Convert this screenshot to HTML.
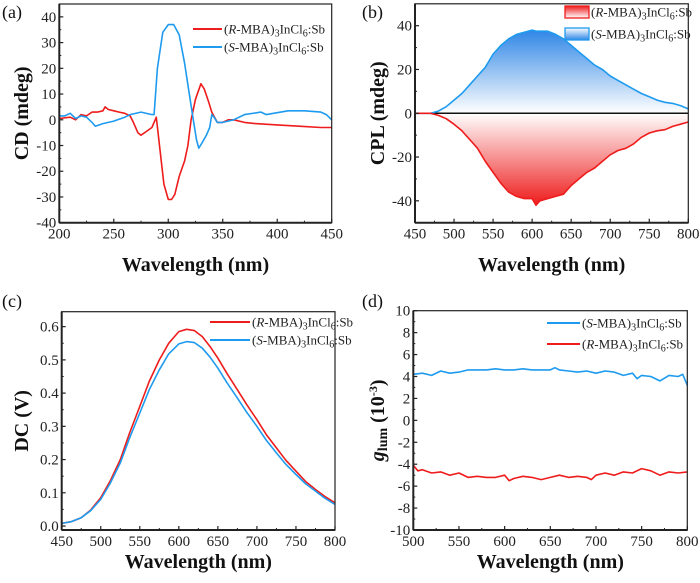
<!DOCTYPE html>
<html><head><meta charset="utf-8"><style>
html,body{margin:0;padding:0;background:#fff;}
svg, svg text{font-family:"Liberation Serif","DejaVu Serif",serif;}
</style></head><body>
<svg id="fig" width="700" height="578" viewBox="0 0 700 578" font-family="Liberation Serif, DejaVu Serif, serif" xmlns="http://www.w3.org/2000/svg">
<defs>
<linearGradient id="gBlue" gradientUnits="userSpaceOnUse" x1="0" y1="30" x2="0" y2="113"><stop offset="0" stop-color="#2f86e6"/><stop offset="1" stop-color="#ffffff"/></linearGradient>
<linearGradient id="gRed" gradientUnits="userSpaceOnUse" x1="0" y1="205" x2="0" y2="113"><stop offset="0" stop-color="#ee1c1c"/><stop offset="1" stop-color="#ffffff"/></linearGradient>
<linearGradient id="lgBlue" x1="0" y1="0" x2="0" y2="1"><stop offset="0" stop-color="#ffffff"/><stop offset="1" stop-color="#2f86e6"/></linearGradient>
<linearGradient id="lgRed" x1="0" y1="0" x2="0" y2="1"><stop offset="0" stop-color="#ee1c1c"/><stop offset="1" stop-color="#ffffff"/></linearGradient>
</defs>
</svg>
<script>
// Panel (a) CD
const aRx=[200,210,215,220,225,230,235,240,242,245,250,255,260,265,268,272,275,280,285,289,292,296,300,303,306,310,315,318,321,325,330,333,337,340,345,350,355,360,370,380,400,420,440,450];
const aRy=[0.5,1,0,2,1.5,3,3,3.5,5,4,3.5,3,2.5,1.5,-1,-5,-6,-4.5,-3,1,-10,-25,-31,-31,-29,-22,-16,-10,0,8,14,12,7,3,-1,-1,0,0,-1,-1.5,-2,-2.5,-3,-3];
const aSx=[200,205,210,215,220,225,230,233,240,250,260,265,275,285,287,290,295,300,305,310,315,320,323,326,328,331,335,338,340,342,345,350,360,370,385,390,410,425,440,445,450];
const aSy=[1.5,1.5,2.5,0.5,1.5,1,-1,-2.5,-1.5,-0.5,1,2,3,2,2,20,34,37,37,33,22,8,0,-8,-11,-9,-6,-3,2,1,-1,-1,0,2,3,2,3.5,3.5,3,2,0];
const aXticks=[200,250,300,350,400,450];
const aYticks=[-40,-30,-20,-10,0,10,20,30,40];
// Panel (b) CPL
const bX=[450,470,480,490,500,510,520,530,540,550,560,570,580,590,600,605,610,620,630,640,650,660,670,680,690,700,710,720,730,740,750,760,770,780,790,800];
const bS=[0,0,1,3,6,9,13,17,21,27,31,34,36,37,38,37.5,37.5,37.5,36,34,31,28,25,22,20,17,15,13,11,9,7.5,6,5,4.5,3.5,2];
const bR=[0,0,-1,-2.5,-5,-8,-12,-16,-22,-27,-32,-36,-38,-39,-39,-42,-40,-39,-38,-37,-33,-30,-27,-25,-22,-19,-17,-16,-14,-11,-9,-8,-7.5,-6,-5,-4];
const bXticks=[450,500,550,600,650,700,750,800];
const bYticks=[-40,-20,0,20,40];
// Panel (c) DC
const cX=[450,462,475,487,500,512,525,537,550,562,575,587,600,610,620,630,640,650,662,675,687,700,712,725,737,750,762,775,787,800];
const cR=[0.008,0.013,0.025,0.048,0.085,0.135,0.2,0.28,0.36,0.435,0.5,0.55,0.585,0.592,0.588,0.57,0.54,0.505,0.458,0.41,0.365,0.32,0.275,0.235,0.198,0.165,0.135,0.11,0.089,0.07];
const cS=[0.008,0.013,0.025,0.046,0.08,0.128,0.19,0.265,0.34,0.41,0.47,0.518,0.548,0.555,0.552,0.535,0.508,0.475,0.43,0.385,0.342,0.3,0.258,0.22,0.186,0.155,0.128,0.105,0.084,0.065];
const cXticks=[450,500,550,600,650,700,750,800];
const cYticks=[0,0.1,0.2,0.3,0.4,0.5,0.6];
const cYlabels=["0.0","0.1","0.2","0.3","0.4","0.5","0.6"];
// Panel (d) glum
const dSx=[500,510,520,530,540,550,560,570,580,590,600,610,620,630,640,650,655,660,670,680,690,700,710,720,730,740,745,750,760,770,780,790,795,800];
const dS=[4.2,4.3,4.1,4.5,4.3,4.4,4.6,4.6,4.6,4.7,4.6,4.6,4.7,4.6,4.6,4.6,4.8,4.6,4.5,4.4,4.5,4.3,4.5,4.4,4.1,4.3,3.8,4.1,4.0,3.6,4.1,4.0,4.2,3.2];
const dRx=[500,505,510,520,530,540,550,560,570,580,590,600,605,610,620,630,640,650,660,670,680,690,695,700,710,720,730,740,750,760,770,780,790,800];
const dR=[-4.1,-4.6,-4.5,-4.8,-4.7,-5.0,-4.8,-5.2,-5.1,-5.2,-5.2,-5.0,-5.5,-5.3,-5.1,-5.2,-5.4,-5.2,-5.0,-5.2,-5.1,-5.2,-5.4,-5.0,-4.8,-5.0,-4.7,-4.8,-4.4,-4.6,-5.0,-4.7,-4.8,-4.7];
const dXticks=[500,550,600,650,700,750,800];
const dYticks=[-10,-8,-6,-4,-2,0,2,4,6,8,10];

const NS="http://www.w3.org/2000/svg";
const svg=document.getElementById('fig');
const FF="Liberation Serif, DejaVu Serif, serif";
function mk(tag,attrs,parent){const e=document.createElementNS(NS,tag);for(const k in attrs)e.setAttribute(k,attrs[k]);if(tag==='text')e.setAttribute('font-family',FF);(parent||svg).appendChild(e);return e;}
const RED="#ee1c1c",BLUE="#1e9bef";

function panel(P){
  const g=mk('g',{});
  
  
  const sx=v=>P.L+(v-P.x0)/(P.x1-P.x0)*(P.R-P.L);
  const sy=v=>P.B-(v-P.y0)/(P.y1-P.y0)*(P.B-P.T);
  P.sx=sx;P.sy=sy;P.g=g;
  if(P.pre)P.pre(P);
  P.series.forEach(s=>{
    const pts=s.x.map((x,i)=>sx(x).toFixed(1)+','+sy(s.y[i]).toFixed(1)).join(' ');
    const pl=mk('polyline',{points:pts,fill:'none',stroke:s.color,'stroke-width':1.6,'stroke-linejoin':'round'},g);
    
    
  });
  const ax=mk('rect',{x:P.L,y:P.T,width:P.R-P.L,height:P.B-P.T,fill:'none',stroke:'#222','stroke-width':1.2},g);
  
  
  mk('line',{x1:P.L,y1:P.B,x2:P.R,y2:P.B,stroke:'#222','stroke-width':2},g);
  mk('line',{x1:P.L,y1:P.T,x2:P.L,y2:P.B,stroke:'#222','stroke-width':2},g);
  P.xt.forEach((v,i)=>{
    const x=sx(v);
    mk('line',{x1:x,y1:P.B,x2:x,y2:P.B-4,stroke:'#222','stroke-width':1.2},g);
    if(i<P.xt.length-1){const xm=sx(v+(P.xt[1]-P.xt[0])/2);mk('line',{x1:xm,y1:P.B,x2:xm,y2:P.B-2,stroke:'#222','stroke-width':1},g);}
    const t=mk('text',{x:x,y:P.B+16,'text-anchor':'middle','font-size':15,fill:'#222'},g);
    t.textContent=v;
    
    
  });
  P.yt.forEach((v,i)=>{
    const y=sy(v);
    mk('line',{x1:P.L,y1:y,x2:P.L+4,y2:y,stroke:'#222','stroke-width':1.2},g);
    if(i<P.yt.length-1){const ym=sy(v+(P.yt[1]-P.yt[0])/2);mk('line',{x1:P.L,y1:ym,x2:P.L+2,y2:ym,stroke:'#222','stroke-width':1},g);}
    const t=mk('text',{x:P.L-3,y:y+5,'text-anchor':'end','font-size':15,fill:'#222'},g);
    t.textContent=P.yl?P.yl[i]:v;
    
    
  });
  const xt=mk('text',{x:(P.L+P.R)/2,y:P.xtY,'text-anchor':'middle','font-size':20,'font-weight':'bold',fill:'#111'},g);
  xt.textContent='Wavelength (nm)';
  
  
  const yt=mk('text',{transform:`translate(${P.ytX},${(P.T+P.B)/2}) rotate(-90)`,'text-anchor':'middle','font-size':20,'font-weight':'bold',fill:'#111'},g);
  yt.innerHTML=P.ytitle;
  
  
  const pl=mk('text',{x:P.lx,y:P.ly,'font-size':18,fill:'#111'},g);
  pl.textContent=P.label;
  
  
  P.legend.forEach((e,i)=>{
    const y=P.legY+i*P.legDy;
    const lg=mk('g',{},g);
    
    
    if(e.box){mk('rect',{x:P.legX,y:y-6,width:P.legW,height:12,fill:e.box,stroke:e.color,'stroke-width':1.3},lg);}
    else mk('line',{x1:P.legX,y1:y,x2:P.legX+P.legW,y2:y,stroke:e.color,'stroke-width':2},lg);
    const t=mk('text',{x:P.legX+P.legW+2,y:y+4.5,'font-size':13,fill:'#222'},lg);
    t.innerHTML=`(<tspan font-style="italic">${e.s}</tspan>-MBA)<tspan font-size="10" dy="3">3</tspan><tspan dy="-3">InCl</tspan><tspan font-size="10" dy="3">6</tspan><tspan dy="-3">:Sb</tspan>`;
  });
}

panel({name:'panel-a-cd',label:'(a)',lx:2,ly:18,L:59.3,R:331.7,T:4,B:222.7,x0:200,x1:450,y0:-40,y1:45,xt:aXticks,yt:aYticks,
  xtY:271,ytX:28,ytitle:'CD (mdeg)',
  series:[{name:'cd-r-line',x:aRx,y:aRy,color:RED},{name:'cd-s-line',x:aSx,y:aSy,color:BLUE}],
  legX:193,legW:29,legY:29,legDy:18,legend:[{s:'R',color:RED},{s:'S',color:BLUE}]});

panel({name:'panel-b-cpl',label:'(b)',lx:362,ly:18,L:415,R:688.3,T:3.8,B:222.7,x0:450,x1:800,y0:-50,y1:50,xt:bXticks,yt:bYticks,
  xtY:271,ytX:384,ytitle:'CPL (mdeg)',
  pre:function(P){
    const up=bX.map((x,i)=>P.sx(x).toFixed(1)+','+P.sy(bS[i]).toFixed(1)).join(' ');
    const dn=bX.map((x,i)=>P.sx(x).toFixed(1)+','+P.sy(bR[i]).toFixed(1)).join(' ');
    const z=P.sy(0),a=P.sx(450),b=P.sx(800);
    const f1=mk('polygon',{points:`${a},${z} ${up} ${b},${z}`,fill:'url(#gBlue)'},P.g);
    
    
    const f2=mk('polygon',{points:`${a},${z} ${dn} ${b},${z}`,fill:'url(#gRed)'},P.g);
    
    
    const zl=mk('line',{x1:P.L,y1:z,x2:P.R,y2:z,stroke:'#111','stroke-width':1.5},P.g);
    
    
  },
  series:[{name:'cpl-s-line',x:bX,y:bS,color:BLUE},{name:'cpl-r-line',x:bX,y:bR,color:RED}],
  legX:565,legW:24,legY:12,legDy:22,legend:[{s:'R',color:RED,box:'url(#lgRed)'},{s:'S',color:BLUE,box:'url(#lgBlue)'}]});

panel({name:'panel-c-dc',label:'(c)',lx:2,ly:307,L:61.7,R:335,T:311.7,B:530,x0:450,x1:800,y0:-0.012,y1:0.645,xt:cXticks,yt:cYticks,yl:cYlabels,
  xtY:568,ytX:28,ytitle:'DC (V)',
  series:[{name:'dc-r-line',x:cX,y:cR,color:RED},{name:'dc-s-line',x:cX,y:cS,color:BLUE}],
  legX:210,legW:40,legY:322,legDy:18,legend:[{s:'R',color:RED},{s:'S',color:BLUE}]});

panel({name:'panel-d-glum',label:'(d)',lx:362,ly:307,L:413.3,R:687.3,T:310.7,B:530,x0:500,x1:800,y0:-10,y1:10,xt:dXticks,yt:dYticks,
  xtY:568,ytX:384,ytitle:'<tspan font-style="italic">g</tspan><tspan font-size="14" dy="3">lum</tspan><tspan dy="-3"> (10</tspan><tspan font-size="12" dy="-7">-3</tspan><tspan dy="7">)</tspan>',
  series:[{name:'glum-s-line',x:dSx,y:dS,color:BLUE},{name:'glum-r-line',x:dRx,y:dR,color:RED}],
  legX:547,legW:33,legY:323,legDy:21,legend:[{s:'S',color:BLUE},{s:'R',color:RED}]});
</script>
</body></html>
